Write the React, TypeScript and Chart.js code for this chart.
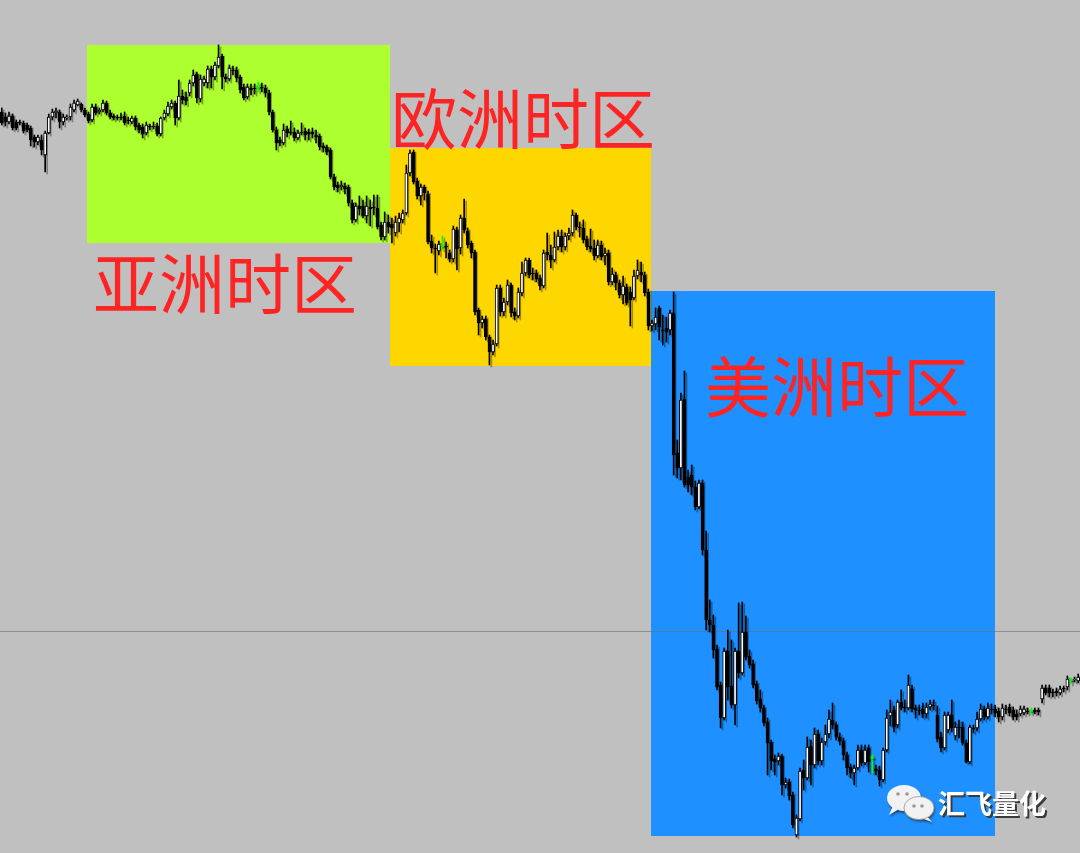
import React, { useEffect, useRef } from "react";
import { Chart, registerables } from "chart.js";

Chart.register(...registerables);

// ---- Candle data (price units) ----
const opens = [
  888,883,878,884,878,878,877,875,872,863,
  858,860,845,867,883,887,888,878,882,883,
  890,895,896,890,886,880,893,888,890,897,
  887,884,883,883,884,880,878,882,875,873,
  867,874,874,874,866,882,886,893,897,882,
  904,903,907,917,926,901,917,917,931,923,
  934,944,923,921,930,930,923,913,903,912,
  912,913,913,912,907,888,870,860,857,871,
  868,868,862,868,869,868,868,865,864,854,
  853,850,823,815,813,814,813,797,780,794,
  794,784,793,793,792,775,763,778,776,767,
  777,780,787,827,848,819,804,813,806,759,
  752,749,754,754,747,741,770,752,782,769,
  757,748,690,677,681,663,648,656,712,688,
  698,715,688,684,707,727,740,727,727,722,
  714,748,745,740,753,764,753,764,767,785,
  773,772,761,754,752,744,755,744,747,718,
  725,717,705,713,708,702,724,728,725,708,
  674,676,692,670,672,670,687,547,532,601,
  523,525,513,493,517,450,380,375,351,315,
  282,349,314,295,349,327,368,344,336,316,
  301,292,278,258,241,239,244,215,218,205,
  165,181,230,222,254,235,266,239,258,266,
  280,275,263,259,245,233,227,232,250,237,
  252,242,231,230,220,250,284,290,275,298,
  293,292,311,292,290,291,286,293,295,285,
  263,252,270,285,264,273,273,257,238,272,
  272,281,291,283,291,291,289,283,291,293,
  290,286,286,287,289,289,290,290,301,312,
  312,308,309,307,312,313,320,320,319,
];

const closes = [
  877,878,884,872,872,877,869,870,860,858,
  863,850,867,883,888,889,878,883,883,893,
  897,899,890,885,879,893,887,890,897,887,
  883,882,882,882,877,879,882,873,870,866,
  875,873,873,866,882,887,894,897,882,904,
  900,899,917,925,902,921,921,931,923,935,
  943,923,921,932,929,922,910,902,913,910,
  911,913,912,907,888,870,857,857,870,867,
  867,862,867,867,865,866,866,863,853,852,
  848,823,813,812,815,811,797,780,794,791,
  784,794,791,792,773,763,778,773,772,778,
  782,787,827,847,818,804,813,807,758,752,
  751,756,754,753,741,771,751,782,770,755,
  747,688,677,681,663,648,656,712,688,698,
  715,687,684,708,727,740,725,726,721,714,
  747,745,740,753,764,753,764,767,785,773,
  772,760,753,751,744,755,743,747,718,726,
  717,705,714,697,700,724,730,725,707,674,
  677,683,673,669,668,687,545,532,600,515,
  515,513,493,517,450,380,375,350,313,282,
  349,313,295,349,327,368,343,335,315,299,
  292,277,257,239,238,244,215,218,204,175,
  182,229,222,253,235,266,239,258,266,281,
  275,263,259,245,232,227,232,250,237,250,
  238,242,229,220,250,282,288,273,298,292,
  292,315,291,290,289,286,293,296,294,261,
  252,285,285,272,273,272,257,238,273,271,
  281,291,283,292,290,287,283,292,290,287,
  283,283,291,291,288,289,288,288,312,307,
  307,307,307,311,311,321,320,321,323,
];

const highs = [
  892,887,888,886,880,880,879,877,874,865,
  865,865,869,886,891,892,890,886,885,896,
  900,901,897,892,888,896,896,892,900,899,
  890,886,885,887,888,883,884,884,877,876,
  878,876,878,877,883,890,898,900,899,920,
  910,908,920,930,928,925,924,934,934,938,
  955,946,926,935,934,933,925,916,916,916,
  916,918,917,915,910,890,873,863,876,874,
  879,872,870,877,872,871,872,870,866,857,
  855,852,826,818,819,817,815,800,797,804,
  800,804,800,805,805,778,788,785,782,784,
  787,790,835,850,850,822,816,815,809,765,
  756,759,764,758,750,774,773,785,801,772,
  759,750,692,684,684,665,660,715,715,702,
  720,717,692,712,738,742,742,732,730,725,
  750,767,755,768,770,770,767,772,790,787,
  778,780,764,771,760,760,759,752,750,732,
  728,720,724,716,713,730,740,738,728,711,
  680,692,694,685,683,690,708,560,607,629,
  530,535,519,520,520,469,400,385,355,318,
  352,370,360,352,397,398,384,350,340,319,
  310,295,282,260,245,247,246,222,221,208,
  185,232,240,263,260,272,270,262,275,290,
  297,278,267,262,248,236,235,255,255,255,
  255,245,235,234,252,290,300,294,300,310,
  300,325,315,295,295,297,297,300,300,294,
  268,288,288,300,278,280,278,260,275,275,
  288,296,294,297,296,295,292,296,295,296,
  293,290,294,294,292,292,292,292,315,315,
  315,311,312,314,314,324,322,323,326,
];

const lows = [
  875,874,876,870,870,875,867,868,854,853,
  855,845,828,866,880,882,872,875,880,880,
  888,894,888,883,877,878,885,886,888,885,
  881,880,880,880,875,876,876,870,867,862,
  865,870,871,864,864,880,884,891,875,880,
  896,895,904,914,897,898,914,912,912,920,
  932,911,918,919,925,918,907,900,901,905,
  906,908,908,903,885,868,850,854,855,863,
  865,859,860,865,860,860,862,857,850,848,
  845,821,810,808,810,806,794,777,778,785,
  782,777,774,785,771,760,760,767,757,764,
  768,777,785,824,816,801,795,800,756,747,
  727,745,750,742,738,738,730,746,767,752,
  742,685,665,672,660,635,645,654,684,684,
  695,683,680,682,704,724,722,720,718,710,
  712,740,732,738,750,748,750,760,764,770,
  763,757,750,748,740,742,740,735,715,715,
  710,702,696,695,674,700,721,718,704,670,
  669,670,660,655,658,665,525,522,520,513,
  508,505,490,491,445,370,368,342,310,272,
  280,300,292,275,322,325,340,332,312,296,
  288,274,225,230,225,235,205,212,200,172,
  163,179,210,220,215,232,235,235,255,262,
  271,260,255,240,225,222,215,230,234,235,
  228,227,225,214,218,248,274,268,272,290,
  288,290,288,282,285,282,282,290,290,258,
  248,250,267,268,260,262,255,237,236,267,
  269,279,280,281,286,283,278,280,286,284,
  280,280,284,285,286,286,286,285,297,305,
  303,303,304,305,308,310,316,318,317,
];

// ---- Trading sessions (candle index range, session high / low) ----
const sessionNames = ["亚洲时区", "欧洲时区", "美洲时区"];
const sessionStart = [23.6, 107.5, 179.7];
const sessionEnd = [107.5, 179.7, 274.96];
const sessionHigh = [955, 852, 709];
const sessionLow = [757, 634, 164];

const levelPrice = 369;
const watermarkText = "汇飞量化";

// ---- Styles / layout ----
const BG = "#c0c0c0";
const SESSION_COLORS = ["#adff2f", "#ffd700", "#1e90ff"];
const LABEL_POS = [
  { x: 93, y: 284 },
  { x: 391, y: 119 },
  { x: 705, y: 387 },
];
const LABEL_COLOR = "#ff2424";
const CJK = '"Noto Sans CJK SC", "Noto Sans", sans-serif';
const W = 1080;
const H = 853;

export default function App() {
  const canvasRef = useRef<HTMLCanvasElement | null>(null);

  useEffect(() => {
    document.body.style.margin = "0";
    const canvas = canvasRef.current;
    if (!canvas) return;

    const n = opens.length;
    const idx = opens.map((_, i) => i);
    const isDoji = idx.map((i) => opens[i] === closes[i]);
    const isUp = idx.map((i) => closes[i] > opens[i]);

    const wickData = idx.map((i) => ({ x: i, y: [lows[i], highs[i]] }));
    const bodyData = idx.map((i) => ({
      x: i,
      y: [Math.min(opens[i], closes[i]), Math.max(opens[i], closes[i])],
    }));

    const sessionsPlugin = {
      id: "sessions",
      beforeDraw(chart: any) {
        const { ctx } = chart;
        ctx.save();
        ctx.fillStyle = BG;
        ctx.fillRect(0, 0, chart.width, chart.height);
        ctx.restore();
      },
      beforeDatasetsDraw(chart: any) {
        const { ctx } = chart;
        const xs = chart.scales.x;
        const ys = chart.scales.y;
        ctx.save();
        sessionNames.forEach((_, k) => {
          const x1 = Math.round(xs.getPixelForValue(sessionStart[k]));
          const x2 = Math.round(xs.getPixelForValue(sessionEnd[k]));
          const y1 = Math.round(ys.getPixelForValue(sessionHigh[k]));
          const y2 = Math.round(ys.getPixelForValue(sessionLow[k]));
          ctx.fillStyle = SESSION_COLORS[k];
          ctx.fillRect(x1, y1, x2 - x1, y2 - y1);
        });
        const ly = Math.round(ys.getPixelForValue(levelPrice)) + 0.5;
        ctx.strokeStyle = "rgba(110,110,110,0.6)";
        ctx.lineWidth = 1;
        ctx.beginPath();
        ctx.moveTo(0, ly);
        ctx.lineTo(chart.width, ly);
        ctx.stroke();
        ctx.restore();
        // ghost shadow under candles
        ctx.save();
        ctx.shadowColor = "rgba(0,0,0,0.35)";
        ctx.shadowOffsetX = 2;
        ctx.shadowOffsetY = 2;
        ctx.shadowBlur = 0;
      },
      afterDatasetsDraw(chart: any) {
        const { ctx } = chart;
        ctx.restore();
        ctx.save();
        ctx.font = `66px ${CJK}`;
        ctx.fillStyle = LABEL_COLOR;
        ctx.textAlign = "left";
        ctx.textBaseline = "middle";
        sessionNames.forEach((name, k) => {
          ctx.fillText(name, LABEL_POS[k].x, LABEL_POS[k].y);
        });
        ctx.restore();

        // watermark: bubbles icon + text
        ctx.save();
        ctx.shadowColor = "rgba(40,40,40,0.6)";
        ctx.shadowOffsetX = 1;
        ctx.shadowOffsetY = 2;
        ctx.shadowBlur = 2;
        ctx.fillStyle = "#f2f2f2";
        ctx.beginPath();
        ctx.ellipse(904, 798, 17, 13, 0, 0, Math.PI * 2);
        ctx.fill();
        ctx.beginPath();
        ctx.moveTo(893, 806);
        ctx.lineTo(889, 815);
        ctx.lineTo(899, 809);
        ctx.fill();
        ctx.beginPath();
        ctx.ellipse(919, 808, 15, 11.5, 0, 0, Math.PI * 2);
        ctx.fill();
        ctx.beginPath();
        ctx.moveTo(926, 815);
        ctx.lineTo(932, 822);
        ctx.lineTo(921, 818);
        ctx.fill();
        ctx.shadowColor = "transparent";
        ctx.strokeStyle = "rgba(150,150,150,0.8)";
        ctx.lineWidth = 1;
        ctx.beginPath();
        ctx.ellipse(919, 808, 15, 11.5, 0, 0, Math.PI * 2);
        ctx.stroke();
        ctx.fillStyle = "#9a9a9a";
        [[898, 794], [907, 794], [914, 806], [922, 806]].forEach(([dx, dy]) => {
          ctx.beginPath();
          ctx.arc(dx, dy, 1.8, 0, Math.PI * 2);
          ctx.fill();
        });
        ctx.restore();

        ctx.save();
        ctx.font = `bold 27px ${CJK}`;
        ctx.textAlign = "left";
        ctx.textBaseline = "middle";
        ctx.fillStyle = "#3a3a3a";
        ctx.fillText(watermarkText, 940, 806);
        ctx.fillStyle = "#ffffff";
        ctx.fillText(watermarkText, 938, 804);
        ctx.restore();
      },
    };

    const chart = new Chart(canvas, {
      type: "bar",
      data: {
        datasets: [
          {
            label: "body",
            data: bodyData as any,
            backgroundColor: idx.map((i) =>
              isDoji[i] ? "#00ff00" : isUp[i] ? "#ffffff" : "#000000"
            ),
            borderColor: idx.map((i) => (isDoji[i] ? "#00ff00" : "#000000")),
            borderWidth: idx.map((i) => (isDoji[i] ? 0 : 1)) as any,
            borderSkipped: false,
            barThickness: 3,
            minBarLength: 1,
            grouped: false,
          } as any,
          {
            label: "wick",
            data: wickData as any,
            backgroundColor: idx.map((i) => (isDoji[i] ? "#00ff00" : "#000000")),
            borderWidth: 0,
            barThickness: 1,
            grouped: false,
          } as any,
        ],
      },
      options: {
        responsive: false,
        maintainAspectRatio: false,
        animation: false,
        devicePixelRatio: 1,
        events: [],
        layout: { padding: 0 },
        plugins: {
          legend: { display: false },
          tooltip: { enabled: false },
          title: { display: false },
        },
        scales: {
          x: {
            type: "linear",
            display: false,
            min: -0.5,
            max: n - 0.5,
            offset: false,
          },
          y: {
            type: "linear",
            display: false,
            min: 147,
            max: 1000,
          },
        },
      } as any,
      plugins: [sessionsPlugin],
    });

    return () => {
      chart.destroy();
    };
  }, []);

  return (
    <div style={{ width: W, height: H, margin: 0, padding: 0, overflow: "hidden" }}>
      <canvas ref={canvasRef} width={W} height={H} style={{ display: "block" }} />
    </div>
  );
}
